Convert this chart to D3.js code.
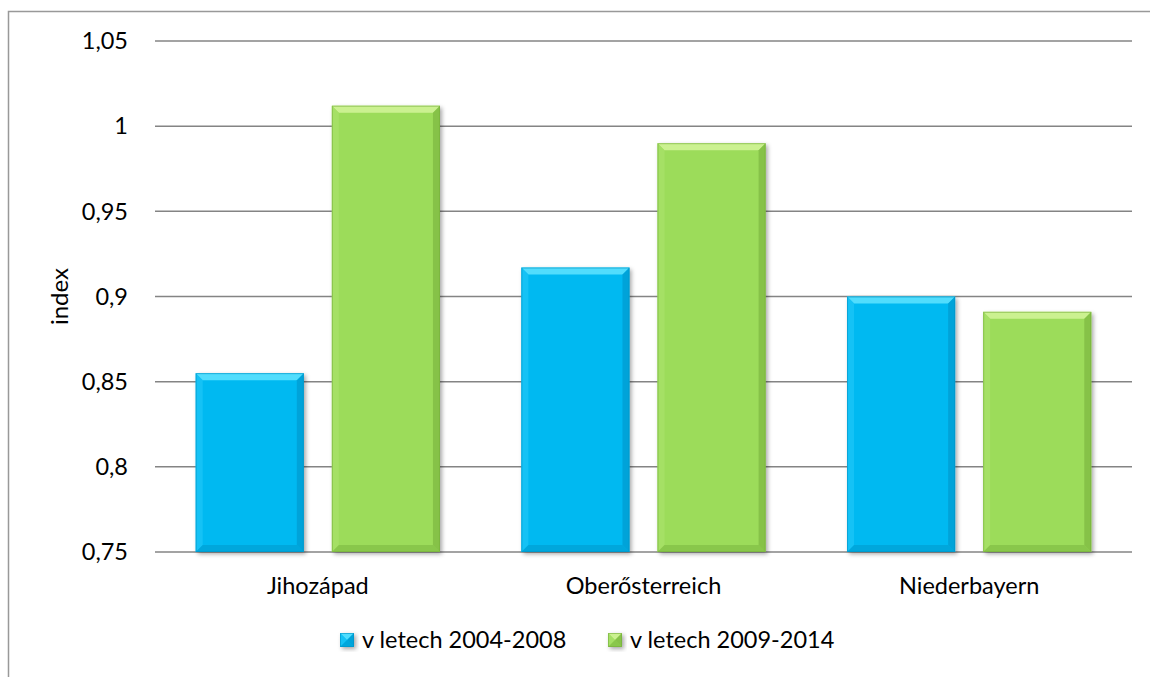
<!DOCTYPE html>
<html>
<head>
<meta charset="utf-8">
<script src="https://cdn.jsdelivr.net/npm/d3@7"></script>
<style>
  body { margin: 0; background: #fff; }
  svg { display: block; }
  text { font-family: Lato, 'Open Sans', sans-serif; fill: #000; }
</style>
</head>
<body>
<div id="chart"></div>
<script>
const WIDTH  = 1150;
const HEIGHT = 677;
const PLOT = { left: 155, right: 1132, top: 41, bottom: 552 };
const FONT = 23.5;
const BEVEL = 7;

const categories = ['Jihozápad', 'Oberősterreich', 'Niederbayern'];
const series     = ['v letech 2004-2008', 'v letech 2009-2014'];
const values2004 = [0.855, 0.917, 0.900];
const values2009 = [1.012, 0.990, 0.891];
const yTicks     = [0.75, 0.8, 0.85, 0.9, 0.95, 1, 1.05];

const COLORS = [
  { base: '#00b9f1', light: '#5fe3ff', side: '#1ac4f6', dark: '#0092c4' },
  { base: '#9cdc5a', light: '#d4f59a', side: '#a8e168', dark: '#74ad3a' }
];

var rows = categories.map((c, i) => ({ cat: c, vals: [values2004[i], values2009[i]] }));

var svg = d3.select('#chart').append('svg')
  .attr('width', WIDTH)
  .attr('height', HEIGHT);

var defs = svg.append('defs');
defs.append('filter')
    .attr('id', 'shadow')
    .attr('x', '-20%').attr('y', '-20%')
    .attr('width', '150%').attr('height', '150%')
  .append('feDropShadow')
    .attr('dx', 2).attr('dy', 2)
    .attr('stdDeviation', 2)
    .attr('flood-color', '#000')
    .attr('flood-opacity', 0.35);

// Outer frame
svg.append('rect')
  .attr('x', 8.5)
  .attr('y', 11.5)
  .attr('width', WIDTH + 20)
  .attr('height', HEIGHT + 20)
  .style('fill', 'none')
  .style('stroke', '#999')
  .style('stroke-width', 1.5);

var x = d3.scaleBand()
  .domain(categories)
  .range([PLOT.left, PLOT.right])
  .paddingInner(0.25)
  .paddingOuter(0.125);

var xs = d3.scaleBand()
  .domain([0, 1])
  .range([0, x.bandwidth()])
  .paddingInner(0.206);

var y = d3.scaleLinear()
  .domain([0.75, 1.05])
  .range([PLOT.bottom, PLOT.top]);

var fmt = d => String(+d.toFixed(2)).replace('.', ',');

// Gridlines
svg.append('g')
    .selectAll('line')
    .data(yTicks)
  .enter().append('line')
    .attr('x1', PLOT.left)
    .attr('x2', PLOT.right)
    .attr('y1', d => y(d))
    .attr('y2', d => y(d))
    .style('stroke', '#848484')
    .style('stroke-width', 1.5);

// Y tick labels
svg.append('g')
    .selectAll('text')
    .data(yTicks)
  .enter().append('text')
    .attr('x', 128)
    .attr('y', d => y(d))
    .attr('dy', '0.35em')
    .attr('text-anchor', 'end')
    .style('font-size', FONT + 'px')
    .text(fmt);

svg.append('text')
  .attr('transform', `translate(${68},${(PLOT.top + PLOT.bottom) / 2}) rotate(-90)`)
  .attr('text-anchor', 'middle')
  .style('font-size', '24px')
  .text('index');

// Bevelled bar
function drawBar(g, bx, by, bw, bh, col) {
  let b = Math.min(BEVEL, bh / 2);
  let x0 = bx, x1 = bx + bw, y0 = by, y1 = by + bh;
  g.append('rect')
    .attr('x', x0).attr('y', y0).attr('width', bw).attr('height', bh)
    .style('fill', col.base)
    .attr('filter', 'url(#shadow)');
  let poly = (pts, fill, op) => g.append('polygon')
    .attr('points', pts.map(p => p.join(',')).join(' '))
    .style('fill', fill)
    .style('opacity', op);
  poly([[x0, y0], [x1, y0], [x1 - b, y0 + b], [x0 + b, y0 + b]], col.light, 0.85);
  poly([[x0, y0], [x0 + b, y0 + b], [x0 + b, y1 - b], [x0, y1]], col.side, 0.8);
  poly([[x1, y0], [x1, y1], [x1 - b, y1 - b], [x1 - b, y0 + b]], col.dark, 0.55);
  poly([[x0, y1], [x0 + b, y1 - b], [x1 - b, y1 - b], [x1, y1]], col.dark, 0.45);
  g.append('rect')
    .attr('x', x0 + 0.5).attr('y', y0 + 0.5).attr('width', bw - 1).attr('height', bh - 1)
    .style('fill', 'none')
    .style('stroke', col.dark)
    .style('stroke-opacity', 0.6)
    .style('stroke-width', 1);
}

var groups = svg.append('g')
    .selectAll('.group')
    .data(rows)
  .enter().append('g')
    .attr('class', 'group');

groups.each(function(d) {
  let g = d3.select(this);
  d.vals.forEach((v, s) => {
    let bx = x(d.cat) + xs(s);
    drawBar(g, bx, y(v), xs.bandwidth(), y(0.75) - y(v), COLORS[s]);
  });
});

// Category labels
svg.append('g')
    .selectAll('text')
    .data(categories)
  .enter().append('text')
    .attr('x', d => x(d) + x.bandwidth() / 2)
    .attr('y', 594)
    .attr('text-anchor', 'middle')
    .style('font-size', FONT + 'px')
    .text(d => d);

// Legend
var legendX = [340, 608];
var legend = svg.append('g')
    .selectAll('.legend')
    .data(series)
  .enter().append('g')
    .attr('class', 'legend')
    .attr('transform', (d, i) => `translate(${legendX[i]},633)`);

legend.each(function(d, i) {
  drawBar(d3.select(this), 0, 0, 14, 14, COLORS[i]);
});

legend.append('text')
  .attr('x', 22)
  .attr('y', 7)
  .attr('dy', '0.35em')
  .style('font-size', FONT + 'px')
  .text(d => d);
</script>
</body>
</html>
